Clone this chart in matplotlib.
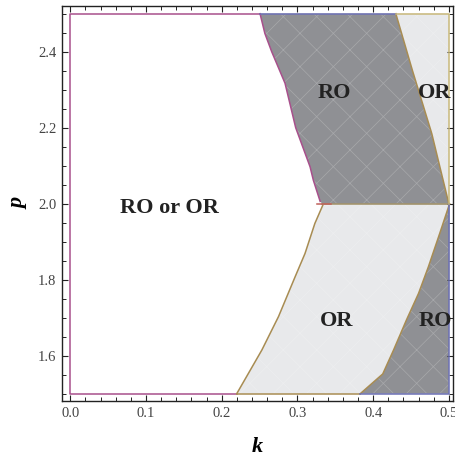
import numpy as np
import matplotlib.pyplot as plt

plt.rcParams['font.family'] = ['Liberation Serif', 'DejaVu Serif']
plt.rcParams['hatch.linewidth'] = 0.5

# Region boundaries (k, p)
upper_left_k = [0.2506, 0.257, 0.266, 0.2836, 0.2977, 0.3167, 0.321, 0.330, 0.333]
upper_left_p = [2.5, 2.448, 2.4, 2.317, 2.2, 2.097, 2.062, 2.006, 2.0]
upper_right_k = [0.430, 0.452, 0.4774, 0.5]
upper_right_p = [2.5, 2.35, 2.185, 2.0]
lower_left_k = [0.3335, 0.323, 0.310, 0.297, 0.275, 0.253, 0.2198]
lower_left_p = [1.996, 1.948, 1.869, 1.808, 1.703, 1.615, 1.5]
lower_right_k = [0.501, 0.488, 0.473, 0.460, 0.444, 0.427, 0.4127, 0.383]
lower_right_p = [2.0, 1.922, 1.834, 1.764, 1.694, 1.615, 1.552, 1.5]

region_labels = ['RO or OR', 'RO', 'OR', 'OR', 'RO']
label_k = [0.1304, 0.349, 0.459, 0.3514, 0.460]
label_p = [1.976, 2.277, 2.277, 1.679, 1.679]
label_ha = ['center', 'center', 'left', 'center', 'left']

k_min, k_max = 0.0, 0.5
p_min, p_mid, p_max = 1.5, 2.0, 2.5

dark = '#8f9094'
light = '#e8e9eb'
purple = '#a8508c'
olive = '#a88c52'
blue = '#6c70b4'
yellow = '#c8b87a'

fig = plt.figure(figsize=(4.55, 4.58), dpi=100)
ax = fig.add_axes([0.1363, 0.1238, 0.8593, 0.8631])


def fill_region(ks, ps, color):
    ax.fill(ks, ps, facecolor=color, edgecolor='none', lw=0, zorder=1)
    # faint mesh lines like the original region plot
    ax.fill(ks, ps, facecolor='none', edgecolor=(1, 1, 1, 0.22), lw=0,
            hatch='x', zorder=1.5)


# upper dark RO region
fill_region(upper_left_k + upper_right_k[::-1], upper_left_p + upper_right_p[::-1], dark)
# upper light OR region
fill_region(upper_right_k + [k_max], upper_right_p + [p_max], light)
# lower light OR region
fill_region(lower_left_k + lower_right_k[::-1], lower_left_p + lower_right_p[::-1], light)
# lower dark RO region
fill_region(lower_right_k + [k_max], lower_right_p + [p_min], dark)

lw = 1.1
# white region outline
ax.plot([upper_left_k[0], k_min, k_min, lower_left_k[-1]],
        [p_max, p_max, p_min, p_min], color=purple, lw=lw, zorder=3)
ax.plot(upper_left_k[:-1], upper_left_p[:-1], color=purple, lw=lw, zorder=3)
# light region outlines
ax.plot(lower_left_k, lower_left_p, color=olive, lw=lw, zorder=3)
ax.plot(lower_right_k, lower_right_p, color=olive, lw=lw, zorder=3)
ax.plot(upper_right_k, upper_right_p, color=olive, lw=lw, zorder=3)
ax.plot([lower_left_k[-1], lower_right_k[-1]], [p_min, p_min], color=olive, lw=lw, zorder=3)
ax.plot([upper_left_k[-1], k_max], [p_mid, p_mid], color='#9a8a60', lw=lw, zorder=3)
ax.plot([0.326, 0.344], [p_mid, p_mid], color='#c0605a', lw=lw, zorder=3)
# dark region outlines
ax.plot([upper_left_k[0], upper_right_k[0]], [p_max, p_max], color=blue, lw=lw, zorder=3)
ax.plot([lower_right_k[-1], k_max, k_max], [p_min, p_min, p_mid], color=blue, lw=lw, zorder=3)
ax.plot([upper_right_k[0], k_max, k_max], [p_max, p_max, p_mid], color=yellow, lw=lw, zorder=3)

for txt, kk, pp, ha in zip(region_labels, label_k, label_p, label_ha):
    ax.text(kk, pp, txt, fontsize=16, fontweight='bold', color='#222222',
            ha=ha, va='baseline', zorder=4, clip_on=True)

ax.set_xlim(-0.011, 0.5055)
ax.set_ylim(1.48, 2.5203)

ax.set_xticks(np.arange(0, 0.51, 0.1))
ax.set_xticklabels(['0.0', '0.1', '0.2', '0.3', '0.4', '0.5'])
ax.set_xticks(np.arange(0, 0.51, 0.02), minor=True)
ax.set_yticks([1.6, 1.8, 2.0, 2.2, 2.4])
ax.set_yticklabels(['1.6', '1.8', '2.0', '2.2', '2.4'])
ax.set_yticks(np.arange(1.5, 2.51, 0.05), minor=True)
ax.tick_params(which='both', direction='in', top=True, right=True,
               labelsize=10.5, labelcolor='#444444', color='#222222')
ax.tick_params(which='major', length=4.5, width=0.8, pad=4)
ax.tick_params(which='minor', length=2.8, width=0.7)
for s in ax.spines.values():
    s.set_linewidth(1.0)
    s.set_color('#222222')

ax.set_xlabel('k', fontsize=16, fontweight='bold', style='italic', labelpad=12)
ax.set_ylabel('p', fontsize=16, fontweight='bold', style='italic', labelpad=7)

fig.savefig('out.png', dpi=100)
